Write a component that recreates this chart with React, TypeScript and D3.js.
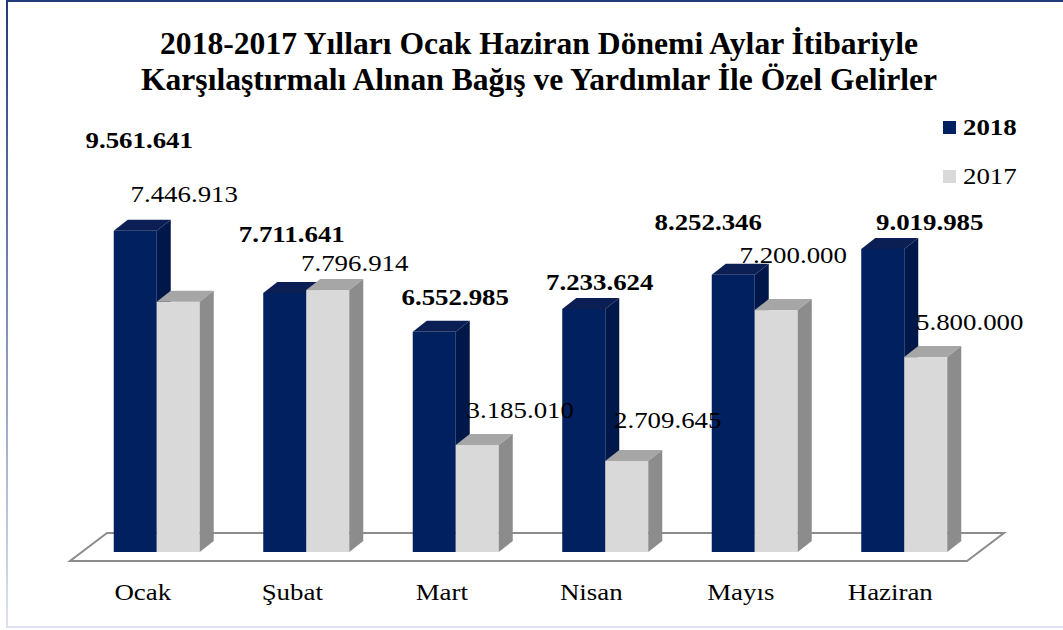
import React from 'react';
import * as d3 from 'd3';

const months = ['Ocak', 'Şubat', 'Mart', 'Nisan', 'Mayıs', 'Haziran'];
const seriesNames = ['2018', '2017'];
const values2018 = [9561641, 7711641, 6552985, 7233624, 8252346, 9019985];
const values2017 = [7446913, 7796914, 3185010, 2709645, 7200000, 5800000];
const titleLines = [
    '2018-2017 Yılları Ocak Haziran Dönemi Aylar İtibariyle',
    'Karşılaştırmalı Alınan Bağış ve Yardımlar İle Özel Gelirler',
];

// hand-placed label nudges (relative to bar top), as in the original
const labelNudge2018 = [[4, -83], [7, -51], [21, -27], [16, -19], [-25, -45], [47, -19]];
const labelNudge2017 = [[6, -100], [27, -19], [43, -27], [41, -33], [17, -47], [44, -27]];

const fmt = (v) => d3.format(',')(v).replace(/,/g, '.');

const W = 1063;
const H = 630;
const font = 'Liberation Serif, Times New Roman, serif';

const colors = {
    '2018': {front: '#002060', top: '#0B1F55', side: '#00174A'},
    '2017': {front: '#D9D9D9', top: '#A6A6A6', side: '#8C8C8C'},
};

// text is a bit wider than normal in the original, so stretch it horizontally
const T = ({x, y, size, bold = false, anchor = 'middle', sx = 1.12, children}) => (
    <g transform={`translate(${x},${y}) scale(${sx},1)`}>
        <text x={0} y={0} textAnchor={anchor} fontFamily={font} fontSize={size} fontWeight={bold ? 'bold' : 'normal'}>
            {children}
        </text>
    </g>
);

const App = () => {
    // floor (front edge) and depth
    const floorFront = 561;
    const floorDx = 37;
    const floorDy = 28;
    const baseY = 552;
    const depthShift = 12;
    const barDx = 14;
    const barDy = 11;

    const x0 = d3.scaleBand().domain(months).range([70, 967]);
    const x1 = d3.scaleBand().domain(seriesNames).range([0, 86]);
    const y = d3.scaleLinear().domain([0, 10000000]).range([baseY, 216]);

    const groupX = (m) => x0(m) + (x0.bandwidth() - 86) / 2 + depthShift;

    const floorPts = [
        [70, floorFront],
        [967, floorFront],
        [967 + floorDx, floorFront - floorDy],
        [70 + floorDx, floorFront - floorDy],
    ];
    const poly = (pts) => pts.map((p) => p.join(',')).join(' ');

    const bar = (m, s, v, key) => {
        const bx = groupX(m) + x1(s);
        const w = x1.bandwidth();
        const top = y(v);
        const c = colors[s];
        return (
            <g key={key}>
                <rect x={bx} y={top} width={w} height={baseY - top} fill={c.front} />
                <polygon
                    points={poly([[bx, top], [bx + barDx, top - barDy], [bx + w + barDx, top - barDy], [bx + w, top]])}
                    fill={c.top}
                />
                <polygon
                    points={poly([[bx + w, top], [bx + w + barDx, top - barDy], [bx + w + barDx, baseY - barDy], [bx + w, baseY]])}
                    fill={c.side}
                />
            </g>
        );
    };

    return (
        <svg width={W} height={H} style={{position: 'fixed', left: 0, top: 0, background: '#fff'}}>
            <defs>
                <linearGradient id="frame" x1="0" y1="0" x2="0" y2="1">
                    <stop offset="0%" stopColor="#1F3C78" />
                    <stop offset="100%" stopColor="#DCE2F2" />
                </linearGradient>
            </defs>
            <rect x={7} y={1} width={1120} height={626} fill="none" stroke="url(#frame)" strokeWidth={2} />

            {titleLines.map((t, i) => (
                <T key={t} x={539} y={54 + i * 36} size={31} bold sx={1.02}>
                    {t}
                </T>
            ))}

            <polygon points={poly(floorPts)} fill="#fff" stroke="#8C8C8C" strokeWidth={2} />

            {months.map((m, i) => (
                <g key={m}>
                    {bar(m, '2018', values2018[i], 'a')}
                    {bar(m, '2017', values2017[i], 'b')}
                </g>
            ))}

            {months.map((m) => (
                <T key={m} x={x0(m) + x0.bandwidth() / 2 - 2} y={600} size={24}>
                    {m}
                </T>
            ))}

            {months.map((m, i) => {
                const w = x1.bandwidth();
                const cx = groupX(m) + x1('2018') + w / 2;
                const [dx, dy] = labelNudge2018[i];
                return (
                    <T key={'l18' + m} x={cx + dx} y={y(values2018[i]) + dy} size={24} bold>
                        {fmt(values2018[i])}
                    </T>
                );
            })}
            {months.map((m, i) => {
                const w = x1.bandwidth();
                const cx = groupX(m) + x1('2017') + w / 2;
                const [dx, dy] = labelNudge2017[i];
                return (
                    <T key={'l17' + m} x={cx + dx} y={y(values2017[i]) + dy} size={24}>
                        {fmt(values2017[i])}
                    </T>
                );
            })}

            {seriesNames.map((s, i) => (
                <g key={s}>
                    <rect x={943} y={121 + i * 49} width={13} height={13} fill={colors[s].front} />
                    <T x={963} y={135 + i * 49} size={24} bold={s === '2018'} anchor="start">
                        {s}
                    </T>
                </g>
            ))}
        </svg>
    );
};

export default App;
